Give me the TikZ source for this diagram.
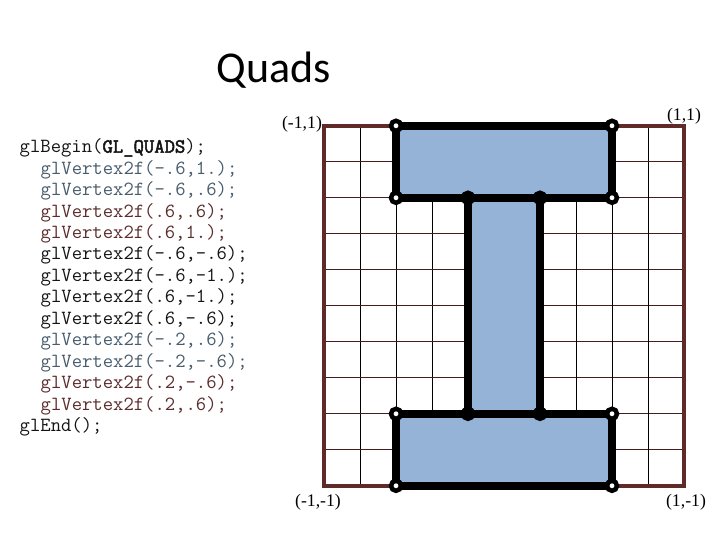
\documentclass[tikz,border=0pt]{standalone}
\usepackage{fontspec}
\usepackage{tkz-euclide}
\usetikzlibrary{calc}
\newfontfamily\titlefont{Carlito}
\newfontfamily\cornerfont{Liberation Serif}
\newfontfamily\codeboldfont{Latin Modern Mono}[FakeBold=2.5]
\definecolor{QuadClr}{RGB}{149,179,215}
\definecolor{FrameClr}{RGB}{96,42,40}
\definecolor{GridClr}{RGB}{70,30,30}
\definecolor{CodeBlueClr}{RGB}{72,92,108}
\definecolor{CodeBrownClr}{RGB}{92,44,44}
\definecolor{CodeBlackClr}{RGB}{20,20,20}

\tikzset{
  code/.style={font=\ttfamily\fontsize{20.1}{22}\selectfont,inner sep=0pt,anchor=base west},
  corner/.style={font=\cornerfont\fontsize{17.7}{20}\selectfont,inner sep=0pt,anchor=base},
  gridv/.style={black,line width=.9pt},
  gridh/.style={GridClr,line width=.9pt},
  vtx/.style={draw=black,fill=white,line width=4.5pt},
  vtxfull/.style={draw=black,fill=black,line width=4.5pt}
}

\begin{document}
\begin{tikzpicture}[x=1pt,y=1pt]
\useasboundingbox (0,0) rectangle (720,540);

\node[font=\titlefont\fontsize{44}{50}\selectfont,inner sep=0pt,anchor=base west] (title) at (216.5,457) {Quads};

% the program
\node[code,text=CodeBlackClr] (begin) at (19.5,387.3) {glBegin({\codeboldfont GL\_QUADS});};
\foreach [count=\i] \txt/\clr in {%
  {glVertex2f(-.6,1.);}/CodeBlueClr,
  {glVertex2f(-.6,.6);}/CodeBlueClr,
  {glVertex2f(.6,.6);}/CodeBrownClr,
  {glVertex2f(.6,1.);}/CodeBrownClr,
  {glVertex2f(-.6,-.6);}/CodeBlackClr,
  {glVertex2f(-.6,-1.);}/CodeBlackClr,
  {glVertex2f(.6,-1.);}/CodeBlackClr,
  {glVertex2f(.6,-.6);}/CodeBlackClr,
  {glVertex2f(-.2,.6);}/CodeBlueClr,
  {glVertex2f(-.2,-.6);}/CodeBlueClr,
  {glVertex2f(.2,-.6);}/CodeBrownClr,
  {glVertex2f(.2,.6);}/CodeBrownClr}
  \node[code,text=\clr] (line\i) at (40.5,387.3-21.46*\i) {\txt};
\node[code,text=CodeBlackClr] (end) at (19.5,387.3-21.46*13) {glEnd();};

% the viewport, from (-1,-1) to (1,1)
\begin{scope}[shift={(504,234.2)},x=180pt,y=180pt]
\tkzDefPoints{-1/-1/SW,1/-1/SE,1/1/NE,-1/1/NW}
\tkzDefPoints{-.6/1/A,-.6/.6/B,.6/.6/C,.6/1/D}
\tkzDefPoints{-.6/-.6/E,-.6/-1/F,.6/-1/G,.6/-.6/H}
\tkzDefPoints{-.2/.6/I,-.2/-.6/J,.2/-.6/K,.2/.6/L}

\foreach \i in {1,...,9} {
  \draw[gridv] (-1+\i/5,-1) -- (-1+\i/5,1);
  \draw[gridh] (-1,-1+\i/5) -- (1,-1+\i/5);
}
\draw[FrameClr,line width=3.6pt] (SW) rectangle (NE);

\tkzFillPolygon[fill=QuadClr](A,B,C,D)
\tkzFillPolygon[fill=QuadClr](E,F,G,H)
\tkzFillPolygon[fill=QuadClr](I,J,K,L)
\tkzDrawPolygon[line width=7.5pt,color=black](A,B,C,D)
\tkzDrawPolygon[line width=7.5pt,color=black](E,F,G,H)
\tkzDrawPolygon[line width=7.5pt,color=black](I,J,K,L)

\foreach \p in {A,B,C,D,E,F,G,H}
  \draw[vtx] (\p) circle (5pt);
\foreach \p in {I,J,K,L}
  \draw[vtxfull] (\p) circle (5pt);
\end{scope}

\node[corner] (lblNW) at ($(NW)+(-22pt,-2.6pt)$) {(-1,1)};
\node[corner] (lblNE) at ($(NE)+(0pt,4.8pt)$) {(1,1)};
\node[corner] (lblSW) at ($(SW)+(-6pt,-20.8pt)$) {(-1,-1)};
\node[corner] (lblSE) at ($(SE)+(2pt,-20.8pt)$) {(1,-1)};
\end{tikzpicture}
\end{document}
